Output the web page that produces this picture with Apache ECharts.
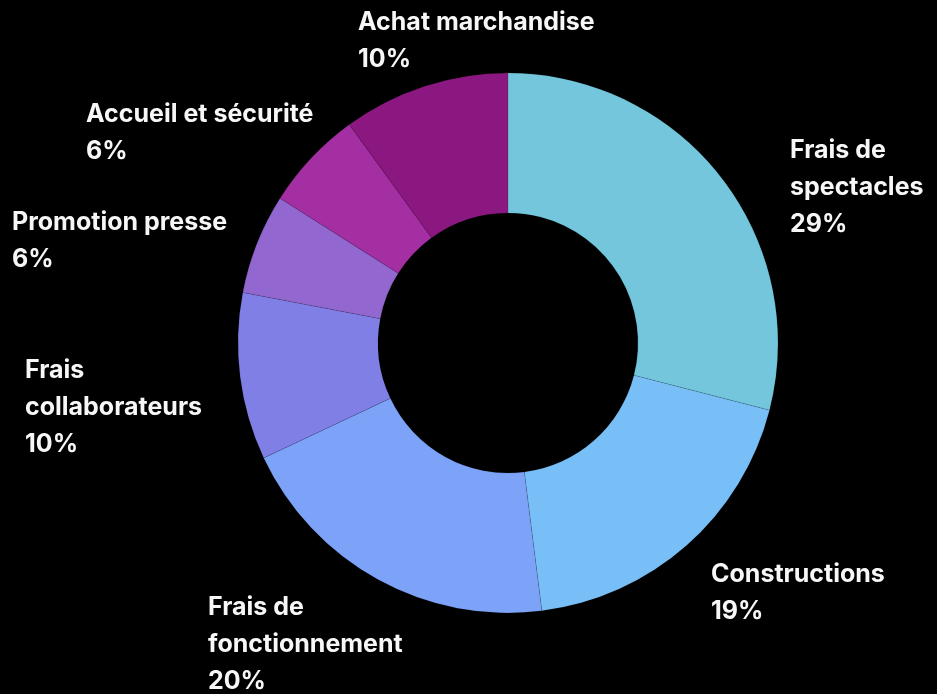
<!DOCTYPE html>
<html><head><meta charset="utf-8">
<script src="https://cdn.jsdelivr.net/npm/echarts@6/dist/echarts.min.js"></script>
<style>html,body{margin:0;padding:0;background:#000;}#c{width:937px;height:694px;}</style>
</head><body><div id="c"></div>
<script>
const categories = ['Frais de spectacles','Constructions','Frais de fonctionnement','Frais collaborateurs','Promotion presse','Accueil et sécurité','Achat marchandise'];
const values = [29, 19, 20, 10, 6, 6, 10];
const colors = ['#73C6DC','#77BFF6','#7CA3F8','#7F7FE5','#9267CF','#A42FA3','#8B1880'];
// label layout (styling only)
const labelWrap = [160, 300, 230, 210, 300, 300, 300];
const labelPos = [[790,132],[711,556],[208,589],[25,352],[12,204],[86,96],[358,4]];

const chart = echarts.init(document.getElementById('c'));
chart.setOption({
  backgroundColor: '#000',
  animation: false,
  series: [{
    type: 'pie',
    center: [508, 343],
    radius: [130, 270],
    startAngle: 90,
    clockwise: true,
    avoidLabelOverlap: false,
    itemStyle: { borderColor: 'rgba(0,0,0,0.2)', borderWidth: 0.5 },
    label: {
      show: true,
      color: '#F7F7F7',
      fontFamily: 'Inter',
      fontWeight: 700,
      fontSize: 25,
      lineHeight: 37,
      align: 'left',
      overflow: 'break',
      formatter: p => p.name + '\n' + Math.round(p.percent) + '%'
    },
    labelLine: { show: false },
    labelLayout: params => ({
      x: labelPos[params.dataIndex][0],
      y: labelPos[params.dataIndex][1],
      align: 'left',
      verticalAlign: 'top'
    }),
    data: categories.map((n, i) => ({
      name: n, value: values[i],
      itemStyle: { color: colors[i] },
      label: { width: labelWrap[i] }
    }))
  }]
});
</script></body></html>
